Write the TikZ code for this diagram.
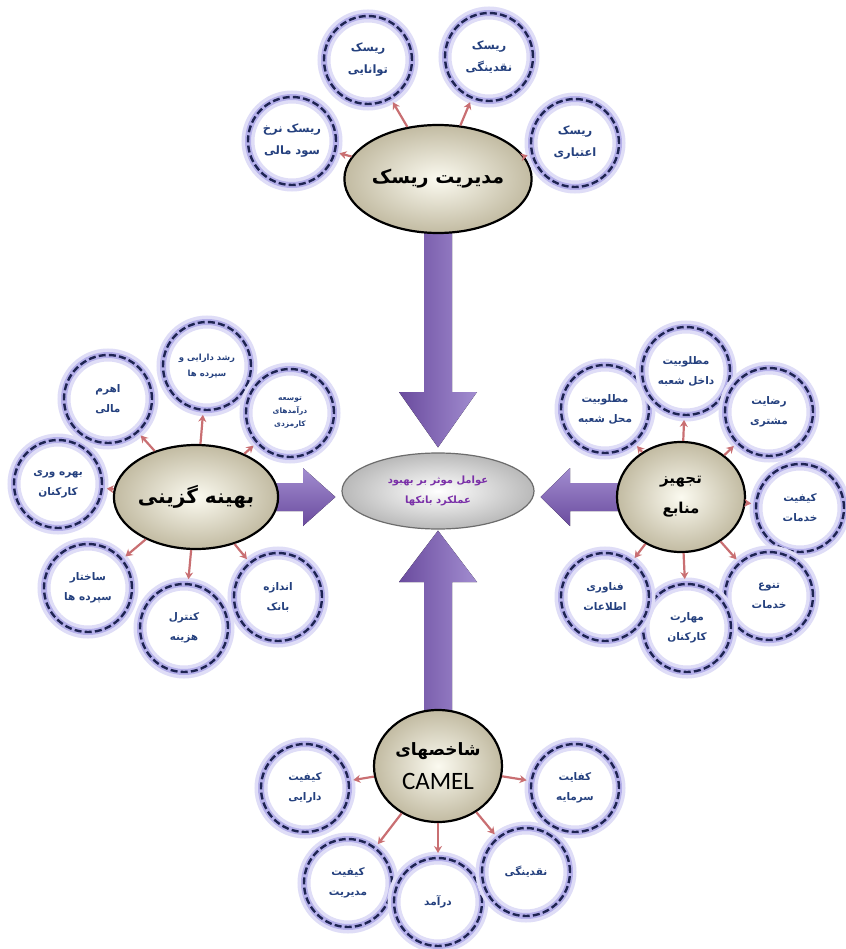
\documentclass[tikz,border=0pt]{standalone}
\usepackage{fontspec}
\usetikzlibrary{shapes.geometric,arrows.meta,calc}
\TeXXeTstate=1
\newfontfamily\arabicfont[Script=Arabic]{DejaVu Sans}
\newfontfamily\camelfont{Carlito}
\newcommand\RL[1]{\beginR#1\endR}
\definecolor{satline}{HTML}{1E2452}
\definecolor{sattext}{HTML}{24407E}
\definecolor{glowA}{HTML}{DFDDF7}
\definecolor{glowB}{HTML}{B5B0EA}
\definecolor{connc}{HTML}{C96F72}
\definecolor{hubin}{HTML}{FBFAF0}
\definecolor{hubout}{HTML}{C2BBA2}
\definecolor{ctrtext}{HTML}{7A2FA8}
\definecolor{arrdark}{HTML}{6A4B9E}
\definecolor{arrlight}{HTML}{A28DD0}
\pgfdeclarelayer{bg}
\pgfsetlayers{bg,main}
\begin{document}
\begin{tikzpicture}[x=1pt,y=-1pt,
 sat/.style={circle, minimum size=88pt, inner sep=0pt, outer sep=5pt,
   preaction={draw=glowA, line width=13pt, solid, fill=white},
   preaction={draw=glowB, line width=6pt, solid},
   draw=satline, line width=2.4pt, dash pattern=on 7pt off 3.2pt,
   text=sattext, align=center,
   font=\arabicfont\bfseries\fontsize{10.5}{20}\selectfont},
 hub/.style={ellipse, inner sep=0pt, draw=black, line width=2.2pt,
   inner color=hubin, outer color=hubout, align=center, text=black},
 ctrbox/.style={ellipse, minimum width=192pt, minimum height=76pt, inner sep=0pt,
   draw=gray!85!black, line width=1.2pt, inner color=white, outer color=gray!55,
   align=center, text=ctrtext,
   font=\arabicfont\bfseries\fontsize{10}{20}\selectfont},
 conn/.style={draw=connc, line width=2.2pt, -{Stealth[length=7pt,width=8pt]}},
 vbig/.style={left color=arrdark, right color=arrlight},
 hbig/.style={top color=arrlight, bottom color=arrdark}]
\useasboundingbox (0,0) rectangle (845,949);

% centre
\node[ctrbox] (ctr) at (438,491) {\RL{عوامل موثر بر بهبود}\\\RL{عملکرد بانکها}};

% hubs
\node[hub, minimum width=136pt, minimum height=108pt,
  font=\arabicfont\bfseries\fontsize{19}{24}\selectfont] (risk) at (438,179) {\RL{مدیریت ریسک}};
\node[hub, minimum width=128pt, minimum height=104pt,
  font=\arabicfont\bfseries\fontsize{20}{24}\selectfont] (opt) at (196,497) {\RL{بهینه گزینی}};
\node[hub, minimum width=128pt, minimum height=110pt,
  font=\arabicfont\bfseries\fontsize{15}{30}\selectfont] (res) at (681,497) {\RL{تجهیز}\\\RL{منابع}};
\node[hub, minimum width=128pt, minimum height=112pt,
  font=\arabicfont\bfseries\fontsize{17}{34}\selectfont] (cam) at (438,766)
  {\RL{شاخصهای}\\{\camelfont\mdseries\fontsize{25}{25}\selectfont CAMEL}};

% big arrows
\begin{pgfonlayer}{bg}
\fill[white] (0,0) rectangle (845,949);
\fill[vbig] ($(risk.center)+(-14,0)$) -- ($(risk.center)+(-14,213)$) -- ($(risk.center)+(-39,213)$)
  -- ($(risk.center |- ctr.north)+(0,-5)$) -- ($(risk.center)+(39,213)$) -- ($(risk.center)+(14,213)$)
  -- ($(risk.center)+(14,0)$) -- cycle;
\fill[vbig] ($(cam.center)+(-14,0)$) -- ($(cam.center)+(-14,-184)$) -- ($(cam.center)+(-39,-184)$)
  -- ($(cam.center |- ctr.south)+(0,1)$) -- ($(cam.center)+(39,-184)$) -- ($(cam.center)+(14,-184)$)
  -- ($(cam.center)+(14,0)$) -- cycle;
\fill[hbig] ($(opt.center)+(0,-14)$) -- ($(opt.center)+(107,-14)$) -- ($(opt.center)+(107,-29)$)
  -- ($(opt.center -| ctr.west)+(-6,0)$) -- ($(opt.center)+(107,29)$) -- ($(opt.center)+(107,14)$)
  -- ($(opt.center)+(0,14)$) -- cycle;
\fill[hbig] ($(res.center)+(0,-14)$) -- ($(res.center)+(-111,-14)$) -- ($(res.center)+(-111,-29)$)
  -- ($(res.center -| ctr.east)+(6,0)$) -- ($(res.center)+(-111,29)$) -- ($(res.center)+(-111,14)$)
  -- ($(res.center)+(0,14)$) -- cycle;
\end{pgfonlayer}

% risk satellites
\node[sat, font=\arabicfont\bfseries\fontsize{11.5}{22}\selectfont] (r1) at (368,60) {\RL{ریسک}\\\RL{توانایی}};
\node[sat, font=\arabicfont\bfseries\fontsize{11.5}{22}\selectfont] (r2) at (489,57) {\RL{ریسک}\\\RL{نقدینگی}};
\node[sat, font=\arabicfont\bfseries\fontsize{11.5}{22}\selectfont] (r3) at (292,141) {\RL{ریسک نرخ}\\\RL{سود مالی}};
\node[sat, font=\arabicfont\bfseries\fontsize{11.5}{22}\selectfont] (r4) at (575,143) {\RL{ریسک}\\\RL{اعتباری}};

% optimisation satellites
\node[sat] (o1) at (108,399) {\RL{اهرم}\\\RL{مالی}};
\node[sat, font=\arabicfont\bfseries\fontsize{8.5}{16}\selectfont] (o2) at (207,366) {\RL{رشد دارایی و}\\\RL{سپرده ها}};
\node[sat, font=\arabicfont\bfseries\fontsize{7.5}{13}\selectfont] (o3) at (290,413) {\RL{توسعه}\\\RL{درآمدهای}\\\RL{کارمزدی}};
\node[sat] (o4) at (58,484) {\RL{بهره وری}\\\RL{کارکنان}};
\node[sat] (o5) at (88,588) {\RL{ساختار}\\\RL{سپرده ها}};
\node[sat] (o6) at (184,628) {\RL{کنترل}\\\RL{هزینه}};
\node[sat] (o7) at (278,597) {\RL{اندازه}\\\RL{بانک}};

% resource satellites
\node[sat] (s1) at (605,409) {\RL{مطلوبیت}\\\RL{محل شعبه}};
\node[sat] (s2) at (686,371) {\RL{مطلوبیت}\\\RL{داخل شعبه}};
\node[sat] (s3) at (769,412) {\RL{رضایت}\\\RL{مشتری}};
\node[sat] (s4) at (800,508) {\RL{کیفیت}\\\RL{خدمات}};
\node[sat] (s5) at (769,596) {\RL{تنوع}\\\RL{خدمات}};
\node[sat] (s6) at (687,628) {\RL{مهارت}\\\RL{کارکنان}};
\node[sat] (s7) at (605,597) {\RL{فناوری}\\\RL{اطلاعات}};

% CAMEL satellites
\node[sat] (c1) at (305,788) {\RL{کیفیت}\\\RL{دارایی}};
\node[sat] (c2) at (575,788) {\RL{کفایت}\\\RL{سرمایه}};
\node[sat] (c3) at (348,883) {\RL{کیفیت}\\\RL{مدیریت}};
\node[sat] (c4) at (438,902) {\RL{درآمد}};
\node[sat] (c5) at (526,872) {\RL{نقدینگی}};

% connectors
\foreach \s in {r1,r2,r3,r4} \draw[conn] (risk) -- (\s);
\foreach \s in {o1,o2,o3,o4,o5,o6,o7} \draw[conn] (opt) -- (\s);
\foreach \s in {s1,s2,s3,s4,s5,s6,s7} \draw[conn] (res) -- (\s);
\foreach \s in {c1,c2,c3,c4,c5} \draw[conn] (cam) -- (\s);
\end{tikzpicture}
\end{document}
